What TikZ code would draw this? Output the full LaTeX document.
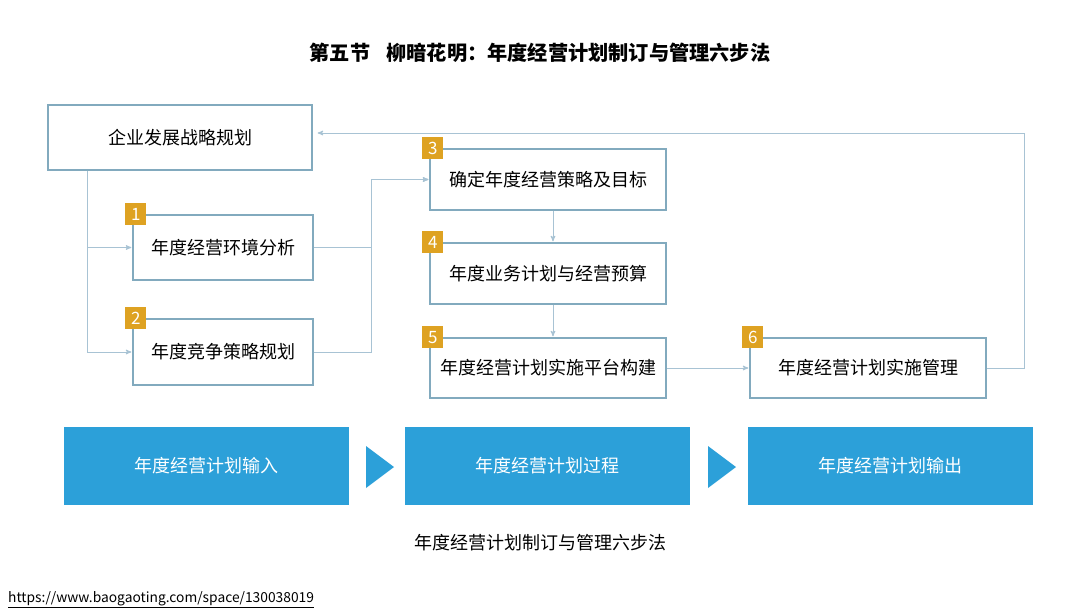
\documentclass[tikz,border=0pt]{standalone}
\usepackage{fontspec}
\setmainfont{Noto Sans CJK SC}
\usetikzlibrary{arrows,positioning}
\definecolor{frameblue}{RGB}{130,170,190}
\definecolor{linkblue}{RGB}{168,195,212}
\definecolor{badgegold}{RGB}{222,162,34}
\definecolor{phaseblue}{RGB}{44,160,217}
\tikzset{
    >=stealth',
    stepbox/.style={
        rectangle,
        draw=frameblue, line width=1.2pt,
        fill=white,
        minimum width=236pt,
        minimum height=61pt,
        font=\fontsize{18}{21}\selectfont,
        text centered
    },
    badge/.style={
        rectangle,
        fill=badgegold,
        text=white,
        minimum width=21pt,
        minimum height=22pt,
        inner sep=0pt,
        font=\fontsize{17}{18}\selectfont
    },
    phase/.style={
        rectangle,
        fill=phaseblue,
        text=white,
        minimum width=285pt,
        minimum height=78pt,
        font=\fontsize{18}{21}\selectfont
    },
    line/.style={draw=linkblue, line width=1pt, ->, shorten >=1pt}
}
\begin{document}
\begin{tikzpicture}[x=1pt,y=-1pt]
    \useasboundingbox[fill=white] (0,0) rectangle (1080,608);

    % title and caption
    \node (title) at (540,53) {\fontsize{20.2}{23}\selectfont\bfseries 第五节\hspace{0.8em}柳暗花明：年度经营计划制订与管理六步法};
    \node (caption) at (540,543) {\fontsize{18}{21}\selectfont 年度经营计划制订与管理六步法};
    \node[anchor=base west, inner sep=0pt] (url) at (8,602) {\fontsize{13.8}{16}\selectfont\underline{https://www.baogaoting.com/space/130038019}};

    % the six steps
    \node[stepbox, minimum width=264pt, minimum height=65pt] (strategy) at (180,137.5) {企业发展战略规划};
    \node[stepbox, minimum width=180pt, minimum height=65pt] (env) at (223,247.5) {年度经营环境分析};
    \node[stepbox, minimum width=180pt, minimum height=66pt] (compete) at (223,352) {年度竞争策略规划};
    \node[stepbox] (goal) at (548,179.5) {确定年度经营策略及目标};
    \node[stepbox] (budget) at (548,273.5) {年度业务计划与经营预算};
    \node[stepbox, minimum height=60pt] (platform) at (548,368) {年度经营计划实施平台构建};
    \node[stepbox, minimum height=60pt] (manage) at (868,368) {年度经营计划实施管理};

    \foreach \stepname/\num in {env/1,compete/2,goal/3,budget/4,platform/5,manage/6}
        \node[badge] (badge\num) at ([xshift=3.5pt]\stepname.north west) {\num};

    % connectors
    \draw[line] ([xshift=40pt]strategy.south west) |- (env.west);
    \draw[line] ([xshift=40pt]strategy.south west) |- (compete.west);
    \draw[line] (env.east) -- ++(58,0) |- (goal.west);
    \draw[line] (compete.east) -- ++(58,0) |- (goal.west);
    \draw[line] ([xshift=5pt]goal.south) -- ([xshift=5pt]budget.north);
    \draw[line] ([xshift=5pt]budget.south) -- ([xshift=5pt]platform.north);
    \draw[line] (platform.east) -- (manage.west);
    \draw[line, shorten >=5pt] (manage.east) -- ++(38,0) |- ([yshift=4.5pt]strategy.east);

    % the three phases
    \node[phase] (input) at (206.5,466) {年度经营计划输入};
    \node[phase] (process) at (547.5,466) {年度经营计划过程};
    \node[phase] (output) at (890.5,466) {年度经营计划输出};

    \fill[phaseblue] (366,446) -- (394,467) -- (366,488) -- cycle;
    \fill[phaseblue] (708,446) -- (736,467) -- (708,488) -- cycle;
\end{tikzpicture}
\end{document}
